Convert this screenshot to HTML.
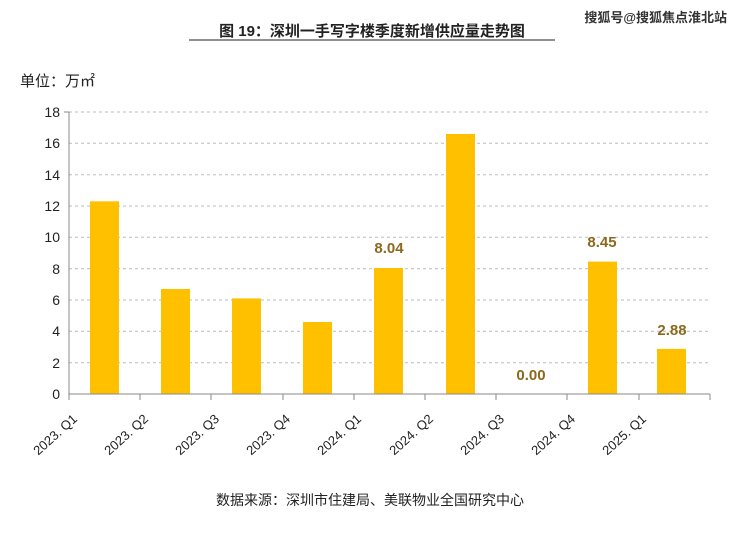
<!DOCTYPE html><html><head><meta charset="utf-8"><style>body{margin:0;background:#fff}</style></head><body>
<svg width="740" height="535" xmlns="http://www.w3.org/2000/svg" font-family="Liberation Sans, Noto Sans CJK SC, sans-serif">
<rect width="740" height="535" fill="#fff"/>
<text x="372" y="36" font-size="15" font-weight="bold" text-anchor="middle" fill="#222">图 19：深圳一手写字楼季度新增供应量走势图</text>
<line x1="189" y1="40" x2="555" y2="40" stroke="#222" stroke-width="1"/>
<text x="727" y="22" font-size="13" font-weight="bold" text-anchor="end" fill="#333">搜狐号@搜狐焦点淮北站</text>
<text x="20" y="86" font-size="15" fill="#222">单位：万㎡</text>
<g stroke="#bbb" stroke-dasharray="3,3" stroke-width="1">
<line x1="69" y1="112" x2="710" y2="112"/><line x1="69" y1="143.3" x2="710" y2="143.3"/><line x1="69" y1="174.7" x2="710" y2="174.7"/><line x1="69" y1="206" x2="710" y2="206"/><line x1="69" y1="237.3" x2="710" y2="237.3"/><line x1="69" y1="268.7" x2="710" y2="268.7"/><line x1="69" y1="300" x2="710" y2="300"/><line x1="69" y1="331.3" x2="710" y2="331.3"/><line x1="69" y1="362.7" x2="710" y2="362.7"/>
</g>
<g font-size="14" fill="#222" text-anchor="end">
<text x="60" y="117">18</text><text x="60" y="148">16</text><text x="60" y="180">14</text><text x="60" y="211">12</text><text x="60" y="242">10</text><text x="60" y="274">8</text><text x="60" y="305">6</text><text x="60" y="336">4</text><text x="60" y="368">2</text><text x="60" y="399">0</text>
</g>
<g fill="#FFC000">
<rect x="90" y="201.3" width="29" height="192.7"/>
<rect x="161" y="289" width="29" height="105"/>
<rect x="232" y="298.4" width="29" height="95.6"/>
<rect x="303" y="322" width="29" height="72"/>
<rect x="374" y="268" width="29" height="126"/>
<rect x="446" y="134" width="29" height="260"/>
<rect x="588" y="261.6" width="29" height="132.4"/>
<rect x="657" y="348.9" width="29" height="45.1"/>
</g>
<g stroke="#888" stroke-width="1">
<line x1="69" y1="112" x2="69" y2="394"/>
<line x1="64" y1="112" x2="69" y2="112"/>
<line x1="69" y1="394" x2="710" y2="394"/>
<line x1="69" y1="394" x2="69" y2="400"/><line x1="140" y1="394" x2="140" y2="400"/><line x1="211" y1="394" x2="211" y2="400"/><line x1="283" y1="394" x2="283" y2="400"/><line x1="354" y1="394" x2="354" y2="400"/><line x1="425" y1="394" x2="425" y2="400"/><line x1="496" y1="394" x2="496" y2="400"/><line x1="567" y1="394" x2="567" y2="400"/><line x1="639" y1="394" x2="639" y2="400"/><line x1="710" y1="394" x2="710" y2="400"/>
</g>
<g font-size="15" font-weight="bold" fill="#8B6A1E" text-anchor="middle">
<text x="389" y="253">8.04</text><text x="531" y="380">0.00</text><text x="602" y="247">8.45</text><text x="672" y="335">2.88</text>
</g>
<g font-size="13" fill="#222" text-anchor="end">
<text transform="translate(78,420) rotate(-42)">2023. Q1</text>
<text transform="translate(149,420) rotate(-42)">2023. Q2</text>
<text transform="translate(220,420) rotate(-42)">2023. Q3</text>
<text transform="translate(291,420) rotate(-42)">2023. Q4</text>
<text transform="translate(362,420) rotate(-42)">2024. Q1</text>
<text transform="translate(434,420) rotate(-42)">2024. Q2</text>
<text transform="translate(505,420) rotate(-42)">2024. Q3</text>
<text transform="translate(576,420) rotate(-42)">2024. Q4</text>
<text transform="translate(647,420) rotate(-42)">2025. Q1</text>
</g>
<text x="370" y="505" font-size="14" fill="#222" text-anchor="middle">数据来源：深圳市住建局、美联物业全国研究中心</text>
</svg>
</body></html>
